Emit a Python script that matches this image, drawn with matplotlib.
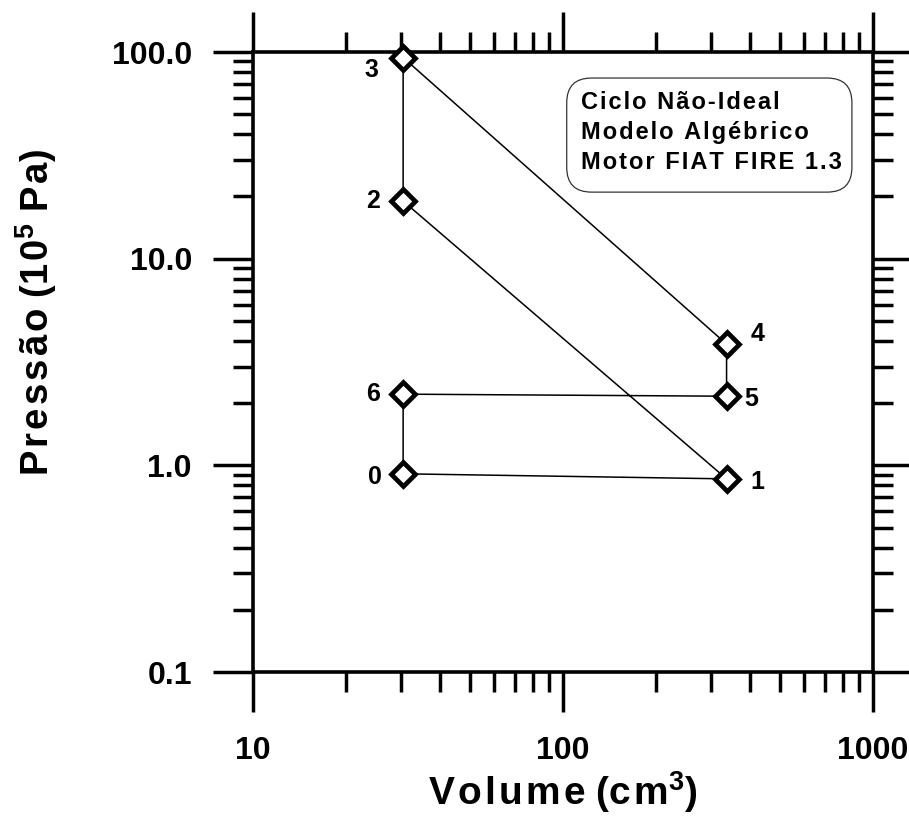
import matplotlib
matplotlib.use('Agg')
import matplotlib.pyplot as plt
from matplotlib.patches import FancyBboxPatch
from matplotlib.ticker import FixedLocator, FixedFormatter, LogLocator, NullFormatter

plt.rcParams['font.family'] = ['Liberation Sans', 'DejaVu Sans']
plt.rcParams['font.weight'] = 'bold'
plt.rcParams['mathtext.fontset'] = 'custom'
plt.rcParams['mathtext.rm'] = 'Liberation Sans:bold'
plt.rcParams['mathtext.bf'] = 'Liberation Sans:bold'

# estado do ciclo (pontos 0..6)
labels = ['0', '1', '2', '3', '4', '5', '6']
volume = [30.5, 337.0, 30.5, 30.5, 337.0, 337.0, 30.5]      # cm3
pressure = [0.91, 0.86, 19.0, 94.0, 3.86, 2.16, 2.21]       # 10^5 Pa
# deslocamento do rotulo de cada ponto (pt)
label_offsets = [(-20, -2), (22, -2), (-22, 0), (-23, -9), (22, 7), (18, -2), (-22, 0)]

x_ticks = [10, 100, 1000]
x_ticklabels = ['10', '100', '1000']
y_ticks = [0.1, 1.0, 10.0, 100.0]
y_ticklabels = ['0.1', '1.0', '10.0', '100.0']

box_lines = ['Ciclo Não-Ideal', 'Modelo Algébrico', 'Motor FIAT FIRE 1.3']

hs = '\u200a'  # espaco fino entre letras


def spaced(s):
    return hs.join(s)


fig = plt.figure(figsize=(9.09, 8.16), dpi=100)
ax = fig.add_axes([253 / 909, 1 - 672 / 816, 620 / 909, 620 / 816])

# fecha o ciclo voltando ao ponto 0
xs = volume + [volume[0]]
ys = pressure + [pressure[0]]
ax.plot(xs, ys, color='black', lw=1.1, zorder=3, clip_on=False)
ax.plot(volume, pressure, linestyle='none', marker='D', markersize=12,
        markerfacecolor='white', markeredgecolor='black', markeredgewidth=3.4,
        zorder=4, clip_on=False)

for lbl, x, y, off in zip(labels, volume, pressure, label_offsets):
    ax.annotate(lbl, (x, y), xytext=off, textcoords='offset points',
                ha='center', va='center', fontsize=18, fontweight='bold')

ax.set_xscale('log')
ax.set_yscale('log')
ax.set_xlim(10, 1000)
ax.set_ylim(0.1, 100)

ax.xaxis.set_major_locator(FixedLocator(x_ticks))
ax.xaxis.set_major_formatter(FixedFormatter(x_ticklabels))
ax.yaxis.set_major_locator(FixedLocator(y_ticks))
ax.yaxis.set_major_formatter(FixedFormatter(y_ticklabels))
ax.xaxis.set_minor_locator(LogLocator(base=10, subs=range(2, 10)))
ax.yaxis.set_minor_locator(LogLocator(base=10, subs=range(2, 10)))
ax.xaxis.set_minor_formatter(NullFormatter())
ax.yaxis.set_minor_formatter(NullFormatter())

ax.tick_params(which='both', direction='out', top=True, right=True, width=2.5, color='black')
ax.tick_params(which='major', length=29)
ax.tick_params(which='minor', length=14.5)
ax.tick_params(axis='x', which='major', labelsize=23, pad=17)
ax.tick_params(axis='y', which='major', labelsize=23, pad=15)
for t in ax.get_xticklabels() + ax.get_yticklabels():
    t.set_fontweight('bold')

for sp in ax.spines.values():
    sp.set_linewidth(2.6)

ax.set_xlabel(spaced('Volume') + ' (' + spaced('cm') + r'$^{\mathbf{3}}$)', fontsize=28,
              fontweight='bold', ha='center', va='center')
ax.xaxis.set_label_coords(0.5, -0.193)
ax.set_ylabel(spaced('Pressão') + ' (' + spaced('10') + r'$^{\mathbf{5}}$ ' + spaced('Pa') + ')',
              fontsize=27.5, fontweight='bold', ha='center', va='center')
ax.yaxis.set_label_coords(-0.35, 0.58)

# caixa de legenda com cantos arredondados
box = FancyBboxPatch((0.506, 0.774), 0.46, 0.184, boxstyle='round,pad=0,rounding_size=0.04',
                     transform=ax.transAxes, facecolor='white', edgecolor='#333333', lw=0.9, zorder=5)
ax.add_patch(box)
for i, line in enumerate(box_lines):
    ax.text(0.529, 0.919 - i * 0.049, spaced(line), transform=ax.transAxes,
            ha='left', va='center', fontsize=17, fontweight='bold', zorder=6)

fig.savefig('out.png', dpi=100)
